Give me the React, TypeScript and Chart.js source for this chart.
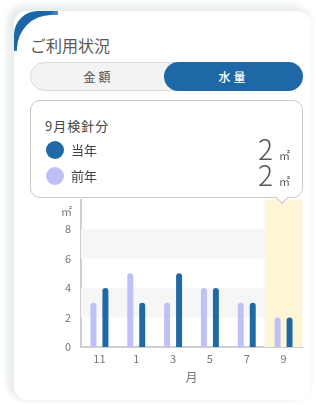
import React, { useEffect, useRef } from "react";
import { Chart, registerables } from "chart.js";

Chart.register(...registerables);

const months = ["11", "1", "3", "5", "7", "9"];
const currentYear = [4, 3, 5, 4, 3, 2];
const previousYear = [3, 5, 3, 4, 3, 2];
const yTicks = [0, 2, 4, 6, 8];
const highlightIndex = 5;
const unitLabel = "㎡";
const xTitle = "月";
const tooltipTitle = "9月検針分";
const seriesNames = ["当年", "前年"];

const DARK = "#1f69a6";
const LIGHT = "#bdc1f5";
const FONT = "'Noto Sans CJK JP', 'Noto Sans', sans-serif";

const bgPlugin = {
  id: "bgBands",
  beforeDatasetsDraw(chart: any) {
    const { ctx, chartArea, scales } = chart;
    const y = scales.y;
    const x = scales.x;
    ctx.save();
    ctx.fillStyle = "#f6f6f6";
    [[2, 4], [6, 8]].forEach(([a, b]) => {
      const top = y.getPixelForValue(b);
      const bot = y.getPixelForValue(a);
      ctx.fillRect(chartArea.left, top, chartArea.right - chartArea.left, bot - top);
    });
    const cw = (chartArea.right - chartArea.left) / months.length;
    const cx = x.getPixelForValue(highlightIndex);
    ctx.fillStyle = "#fdf5d6";
    ctx.fillRect(cx - cw / 2 - 0.5, chartArea.top, cw + 1, chartArea.bottom - chartArea.top);
    ctx.restore();
  },
  afterDraw(chart: any) {
    const { ctx, chartArea, scales } = chart;
    ctx.save();
    ctx.fillStyle = "#777";
    ctx.font = `11px ${FONT}`;
    ctx.textAlign = "right";
    ctx.textBaseline = "middle";
    ctx.fillText(unitLabel, chartArea.left - 9, scales.y.getPixelForValue(9.2));
    ctx.restore();
  },
};

function BarChart() {
  const ref = useRef<HTMLCanvasElement>(null);
  useEffect(() => {
    if (!ref.current) return;
    const chart = new Chart(ref.current, {
      type: "bar",
      data: {
        labels: months,
        datasets: [
          {
            label: seriesNames[1],
            data: previousYear,
            backgroundColor: LIGHT,
            borderRadius: { topLeft: 3, topRight: 3, bottomLeft: 0, bottomRight: 0 },
            borderSkipped: false,
            categoryPercentage: 0.65,
            barPercentage: 0.5,
          },
          {
            label: seriesNames[0],
            data: currentYear,
            backgroundColor: DARK,
            borderRadius: { topLeft: 3, topRight: 3, bottomLeft: 0, bottomRight: 0 },
            borderSkipped: false,
            categoryPercentage: 0.65,
            barPercentage: 0.5,
          },
        ],
      },
      options: {
        animation: false,
        responsive: false,
        maintainAspectRatio: false,
        layout: { padding: { top: 1.5, right: 8, left: 0, bottom: 0 } },
        plugins: { legend: { display: false }, tooltip: { enabled: false } },
        scales: {
          x: {
            grid: { display: false, drawTicks: false },
            border: { display: true, color: "#cfcfcf", width: 2 },
            ticks: { color: "#777", font: { size: 11, family: FONT }, padding: 5 },
            title: {
              display: true,
              text: xTitle,
              color: "#777",
              font: { size: 12, family: FONT },
              padding: { top: 4, bottom: 15 },
            },
            afterFit(scale: any) {
              scale.height = 53;
            },
          },
          y: {
            min: 0,
            max: 10,
            grid: { display: false, drawTicks: false },
            border: { display: true, color: "#cfcfcf", width: 2 },
            afterBuildTicks(scale: any) {
              scale.ticks = yTicks.map((v) => ({ value: v }));
            },
            ticks: {
              color: "#777",
              font: { size: 11, family: FONT },
              padding: 10,
            },
            afterFit(scale: any) {
              scale.width = 67;
            },
          },
        },
      },
      plugins: [bgPlugin],
    });
    return () => chart.destroy();
  }, []);
  return (
    <canvas
      ref={ref}
      width={296}
      height={217}
      style={{ position: "absolute", left: 14, top: 183, width: 296, height: 217 }}
    />
  );
}

export default function App() {
  return (
    <div
      style={{
        position: "fixed",
        left: 0,
        top: 0,
        width: 316,
        height: 405,
        background: "#ffffff",
        fontFamily: FONT,
        overflow: "hidden",
      }}
    >
      <div
        style={{
          position: "absolute",
          left: 14,
          top: 11,
          width: 297,
          height: 389,
          background: "#fff",
          borderRadius: 14,
          boxShadow: "-4px -3px 6px 3px #e8eeec",
          overflow: "hidden",
        }}
      >
        <div
          style={{
            position: "absolute",
            left: 0,
            top: 0,
            width: 44,
            height: 40,
            borderTopLeftRadius: 24,
            background: "linear-gradient(135deg, #1b66a4 45%, rgba(27,102,164,0) 80%)",
          }}
        />
        <div
          style={{
            position: "absolute",
            left: 3,
            top: 4,
            width: 80,
            height: 80,
            borderTopLeftRadius: 34,
            background: "#fff",
          }}
        />
      </div>

      <div
        style={{
          position: "absolute",
          left: 30,
          top: 34,
          fontSize: 16,
          lineHeight: "22px",
          color: "#5a5a5a",
        }}
      >
        ご利用状況
      </div>

      <div
        style={{
          position: "absolute",
          left: 30,
          top: 62,
          width: 270,
          height: 27,
          background: "#f3f3f3",
          border: "1px solid #dcdcdc",
          borderRadius: 15,
        }}
      >
        <div
          style={{
            position: "absolute",
            left: 0,
            top: 0,
            width: 135,
            height: 27,
            lineHeight: "27px",
            textAlign: "center",
            fontSize: 12,
            fontWeight: 500,
            color: "#666",
            letterSpacing: 3,
          }}
        >
          金額
        </div>
        <div
          style={{
            position: "absolute",
            left: 133,
            top: -1,
            width: 139,
            height: 29,
            lineHeight: "29px",
            textAlign: "center",
            fontSize: 12,
            fontWeight: 500,
            color: "#fff",
            background: "#1e68a6",
            borderRadius: 15,
            letterSpacing: 3,
          }}
        >
          水量
        </div>
      </div>

      <BarChart />

      <div
        style={{
          position: "absolute",
          left: 30,
          top: 100,
          width: 271,
          height: 96,
          background: "#fff",
          border: "1px solid #c9c9c9",
          borderRadius: 10,
          zIndex: 2,
        }}
      >
        <div
          style={{
            position: "absolute",
            left: 246,
            top: 91,
            width: 9,
            height: 9,
            background: "#fff",
            borderRight: "1px solid #c9c9c9",
            borderBottom: "1px solid #c9c9c9",
            transform: "rotate(45deg)",
          }}
        />
        <div
          style={{
            position: "absolute",
            left: 14,
            top: 16,
            fontSize: 13,
            lineHeight: "18px",
            color: "#444",
            letterSpacing: 1,
          }}
        >
          {tooltipTitle}
        </div>
        {[
          { name: seriesNames[0], color: DARK, value: currentYear[highlightIndex], top: 40 },
          { name: seriesNames[1], color: LIGHT, value: previousYear[highlightIndex], top: 66 },
        ].map((r) => (
          <React.Fragment key={r.name}>
            <div
              style={{
                position: "absolute",
                left: 15,
                top: r.top,
                width: 18,
                height: 18,
                borderRadius: 9,
                background: r.color,
              }}
            />
            <div
              style={{
                position: "absolute",
                left: 40,
                top: r.top,
                fontSize: 13,
                lineHeight: "18px",
                color: "#444",
              }}
            >
              {r.name}
            </div>
            <div
              style={{
                position: "absolute",
                right: 12,
                top: r.top - 9,
                whiteSpace: "nowrap",
                color: "#555",
                lineHeight: "32px",
              }}
            >
              <span style={{ fontSize: 28, fontWeight: 300 }}>{r.value}</span>
              <span style={{ fontSize: 11, marginLeft: 6 }}>{unitLabel}</span>
            </div>
          </React.Fragment>
        ))}
      </div>
    </div>
  );
}
